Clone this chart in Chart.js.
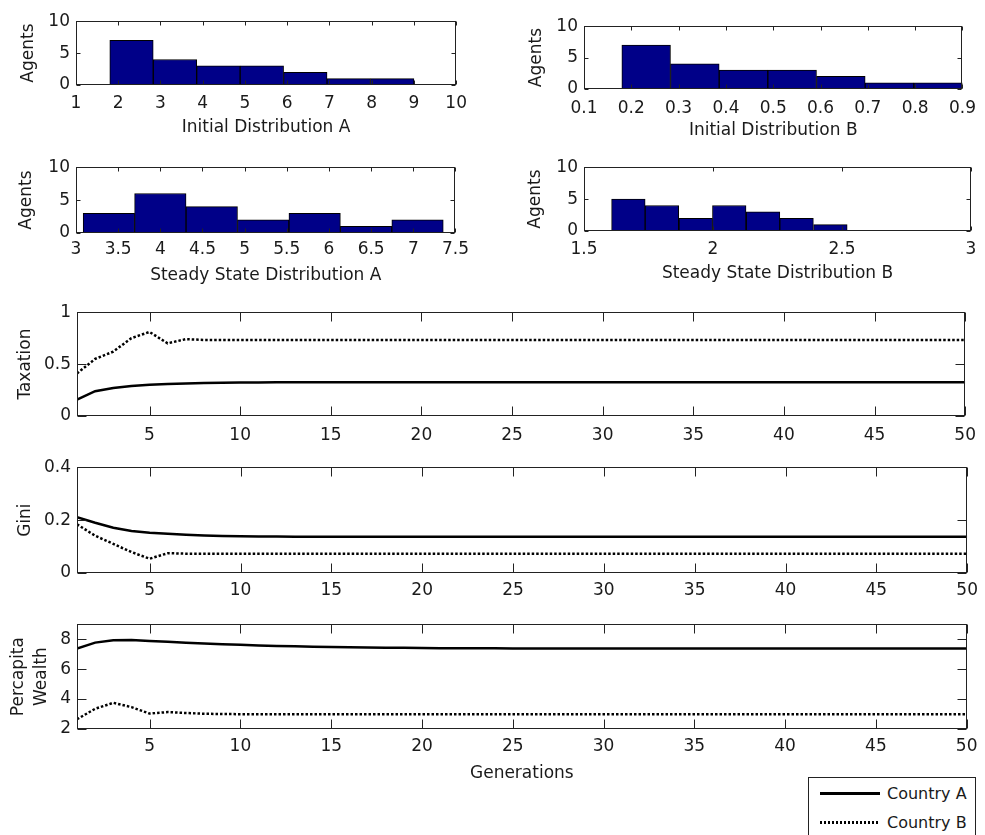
<!DOCTYPE html>
<html>
<head>
<meta charset="utf-8">
<script src="https://cdn.jsdelivr.net/npm/chart.js@4.4.1/dist/chart.umd.min.js"></script>
<style>
  body { margin: 0; width: 985px; height: 835px; overflow: hidden; background: #fff; position: relative; }
  canvas { position: absolute; }
  #legenda { position: absolute; left: 808px; top: 777px; width: 166px; height: 70px; border: 1px solid #222; background: #fff;
             font: 16px 'DejaVu Sans', sans-serif; color: #1a1a1a; }
  .item { position: absolute; left: 11px; height: 20px; display: flex; align-items: center; white-space: nowrap; }
  .traco { display: inline-block; width: 60px; height: 3px; margin-right: 7px; }
  .solido { background: #000; }
  .pontilhado { background: repeating-linear-gradient(to right, #000 0 2px, transparent 2px 4px); }
</style>
</head>
<body>
<canvas id="histInicialA"></canvas>
<canvas id="histInicialB"></canvas>
<canvas id="histEstadoA"></canvas>
<canvas id="histEstadoB"></canvas>
<canvas id="graficoTaxation"></canvas>
<canvas id="graficoGini"></canvas>
<canvas id="graficoWealth"></canvas>
<div id="legenda">
  <div class="item" style="top:5px"><span class="traco solido"></span>Country A</div>
  <div class="item" style="top:34px"><span class="traco pontilhado"></span>Country B</div>
</div>
<script>
// histogram data (bin centres and agent counts)
const binsInicialA = [2.314, 3.343, 4.371, 5.4, 6.429, 7.457, 8.486];
const agentsInicialA = [7, 4, 3, 3, 2, 1, 1];
const ticksInicialA = [1, 2, 3, 4, 5, 6, 7, 8, 9, 10];

const binsInicialB = [0.2314, 0.3343, 0.4371, 0.54, 0.6429, 0.7457, 0.8486];
const agentsInicialB = [7, 4, 3, 3, 2, 1, 1];
const ticksInicialB = [0.1, 0.2, 0.3, 0.4, 0.5, 0.6, 0.7, 0.8, 0.9];

const binsEstadoA = [3.39, 4.0, 4.61, 5.22, 5.83, 6.44, 7.05];
const agentsEstadoA = [3, 6, 4, 2, 3, 1, 2];
const ticksEstadoA = [3, 3.5, 4, 4.5, 5, 5.5, 6, 6.5, 7, 7.5];

const binsEstadoB = [1.672, 1.802, 1.933, 2.063, 2.194, 2.324, 2.455];
const agentsEstadoB = [5, 4, 2, 4, 3, 2, 1];
const ticksEstadoB = [1.5, 2, 2.5, 3];

const ticksAgents = [0, 5, 10];

// time series
const geracoes = [1, 2, 3, 4, 5, 6, 7, 8, 9, 10, 11, 12, 13, 14, 15, 16, 17, 18, 19, 20,
  21, 22, 23, 24, 25, 26, 27, 28, 29, 30, 31, 32, 33, 34, 35, 36, 37, 38, 39, 40,
  41, 42, 43, 44, 45, 46, 47, 48, 49, 50];
const ticksGeracoes = [5, 10, 15, 20, 25, 30, 35, 40, 45, 50];

const taxationA = [0.157, 0.239, 0.27, 0.289, 0.3, 0.308, 0.313, 0.317, 0.32, 0.322,
  0.323, 0.324, 0.324, 0.325, 0.325, 0.325, 0.325, 0.325, 0.325, 0.325,
  0.325, 0.325, 0.325, 0.325, 0.325, 0.325, 0.325, 0.325, 0.325, 0.325,
  0.325, 0.325, 0.325, 0.325, 0.325, 0.325, 0.325, 0.325, 0.325, 0.325,
  0.325, 0.325, 0.325, 0.325, 0.325, 0.325, 0.325, 0.325, 0.325, 0.325];
const taxationB = [0.41, 0.55, 0.62, 0.75, 0.81, 0.7, 0.74, 0.733, 0.732, 0.732,
  0.732, 0.732, 0.732, 0.732, 0.732, 0.732, 0.732, 0.732, 0.732, 0.732,
  0.732, 0.732, 0.732, 0.732, 0.732, 0.732, 0.732, 0.732, 0.732, 0.732,
  0.732, 0.732, 0.732, 0.732, 0.732, 0.732, 0.732, 0.732, 0.732, 0.732,
  0.732, 0.732, 0.732, 0.732, 0.732, 0.732, 0.732, 0.732, 0.732, 0.732];
const ticksTaxation = [0, 0.5, 1];

const giniA = [0.211, 0.19, 0.171, 0.159, 0.152, 0.148, 0.145, 0.142, 0.14, 0.139,
  0.138, 0.138, 0.137, 0.137, 0.137, 0.137, 0.137, 0.137, 0.137, 0.137,
  0.137, 0.137, 0.137, 0.137, 0.137, 0.137, 0.137, 0.137, 0.137, 0.137,
  0.137, 0.137, 0.137, 0.137, 0.137, 0.137, 0.137, 0.137, 0.137, 0.137,
  0.137, 0.137, 0.137, 0.137, 0.137, 0.137, 0.137, 0.137, 0.137, 0.137];
const giniB = [0.184, 0.141, 0.11, 0.079, 0.054, 0.075, 0.073, 0.073, 0.073, 0.073,
  0.073, 0.073, 0.073, 0.073, 0.073, 0.073, 0.073, 0.073, 0.073, 0.073,
  0.073, 0.073, 0.073, 0.073, 0.073, 0.073, 0.073, 0.073, 0.073, 0.073,
  0.073, 0.073, 0.073, 0.073, 0.073, 0.073, 0.073, 0.073, 0.073, 0.073,
  0.073, 0.073, 0.073, 0.073, 0.073, 0.073, 0.073, 0.073, 0.073, 0.073];
const ticksGini = [0, 0.2, 0.4];

const wealthA = [7.38, 7.77, 7.93, 7.95, 7.88, 7.82, 7.76, 7.71, 7.66, 7.62,
  7.58, 7.55, 7.52, 7.5, 7.48, 7.46, 7.44, 7.43, 7.42, 7.41,
  7.4, 7.4, 7.39, 7.39, 7.38, 7.38, 7.38, 7.38, 7.38, 7.38,
  7.38, 7.38, 7.38, 7.38, 7.38, 7.38, 7.38, 7.38, 7.38, 7.38,
  7.38, 7.38, 7.38, 7.38, 7.38, 7.38, 7.38, 7.38, 7.38, 7.38];
const wealthB = [2.65, 3.35, 3.75, 3.46, 3.03, 3.13, 3.07, 3.02, 3.0, 2.99,
  2.98, 2.98, 2.98, 2.98, 2.98, 2.98, 2.98, 2.98, 2.98, 2.98,
  2.98, 2.98, 2.98, 2.98, 2.98, 2.98, 2.98, 2.98, 2.98, 2.98,
  2.98, 2.98, 2.98, 2.98, 2.98, 2.98, 2.98, 2.98, 2.98, 2.98,
  2.98, 2.98, 2.98, 2.98, 2.98, 2.98, 2.98, 2.98, 2.98, 2.98];
const ticksWealth = [2, 4, 6, 8];

Chart.defaults.font.family = "'DejaVu Sans', sans-serif";
Chart.defaults.font.size = 17;
Chart.defaults.color = '#1a1a1a';

// matlab style box with inward ticks on all sides
const caixa = {
  id: 'caixa',
  afterDatasetsDraw(chart, args, opts) {
    const {ctx, chartArea: a, scales: {x, y}} = chart;
    const len = opts.tick;
    const l = Math.round(a.left) + 0.5, r = Math.round(a.right) - 0.5;
    const t = Math.round(a.top) + 0.5, b = Math.round(a.bottom) - 0.5;
    ctx.save();
    ctx.strokeStyle = '#222';
    ctx.lineWidth = 1;
    ctx.beginPath();
    x.ticks.forEach(tk => {
      const px = Math.round(x.getPixelForValue(tk.value)) + 0.5;
      ctx.moveTo(px, b); ctx.lineTo(px, b - len);
      ctx.moveTo(px, t); ctx.lineTo(px, t + len);
    });
    y.ticks.forEach(tk => {
      const py = Math.round(y.getPixelForValue(tk.value)) + 0.5;
      ctx.moveTo(l, py); ctx.lineTo(l + len, py);
      ctx.moveTo(r, py); ctx.lineTo(r - len, py);
    });
    ctx.stroke();
    ctx.strokeRect(l, t, r - l, b - t);
    ctx.restore();
  }
};

// sets canvas size/position so the plot area lands at [L, T, R, B]
function posiciona(id, area, margens) {
  const [L, T, R, B] = area;
  const [ml, pt, pr, mb] = margens;
  const canvas = document.getElementById(id);
  canvas.width = R - L + ml + pr;
  canvas.height = B - T + pt + mb;
  canvas.style.left = (L - ml) + 'px';
  canvas.style.top = (T - pt) + 'px';
  return canvas;
}

function fixaTicks(valores) {
  return s => { s.ticks = valores.map(v => ({ value: v })); };
}

function histograma(id, area, margens, bins, agents, xTicks, titulo, pads) {
  const canvas = posiciona(id, area, margens);
  return new Chart(canvas, {
    type: 'bar',
    data: {
      datasets: [{
        data: bins.map((b, i) => ({ x: b, y: agents[i] })),
        xAxisID: 'xb',
        backgroundColor: '#000088',
        borderColor: '#000',
        borderWidth: 1,
        barPercentage: 1,
        categoryPercentage: 1
      }]
    },
    options: {
      responsive: false,
      animation: false,
      events: [],
      layout: { autoPadding: false, padding: { left: 0, top: margens[1], right: margens[2], bottom: 0 } },
      plugins: { legend: { display: false }, tooltip: { enabled: false }, caixa: { tick: 4 } },
      scales: {
        xb: {
          type: 'linear', display: false, offset: false,
          min: xTicks[0], max: xTicks[xTicks.length - 1],
          afterBuildTicks: fixaTicks(bins)
        },
        x: {
          type: 'linear', position: 'bottom', offset: false,
          min: xTicks[0], max: xTicks[xTicks.length - 1],
          grid: { display: false, drawTicks: false },
          border: { display: false },
          afterBuildTicks: fixaTicks(xTicks),
          afterFit: s => { s.height = margens[3]; },
          ticks: { padding: pads.xTick, maxRotation: 0, autoSkip: false, callback: v => String(v) },
          title: { display: true, text: titulo, padding: { top: 0, bottom: pads.xTitle } }
        },
        y: {
          min: 0, max: 10,
          grid: { display: false, drawTicks: false },
          border: { display: false },
          afterBuildTicks: fixaTicks(ticksAgents),
          afterFit: s => { s.width = margens[0]; },
          ticks: { padding: 6, callback: v => String(v) },
          title: { display: true, text: 'Agents', padding: { top: pads.yTitle, bottom: 0 } }
        }
      }
    },
    plugins: [caixa]
  });
}

function painel(id, area, margens, serieA, serieB, yMin, yMax, yTicks, yTitulo, pads, xTitulo) {
  const canvas = posiciona(id, area, margens);
  return new Chart(canvas, {
    type: 'line',
    data: {
      datasets: [{
        label: 'Country A',
        data: geracoes.map((g, i) => ({ x: g, y: serieA[i] })),
        borderColor: '#000',
        borderWidth: 2.5,
        pointRadius: 0,
        tension: 0
      }, {
        label: 'Country B',
        data: geracoes.map((g, i) => ({ x: g, y: serieB[i] })),
        borderColor: '#000',
        borderWidth: 2.5,
        borderDash: [2.5, 2],
        pointRadius: 0,
        tension: 0
      }]
    },
    options: {
      responsive: false,
      animation: false,
      events: [],
      layout: { autoPadding: false, padding: { left: 0, top: margens[1], right: margens[2], bottom: 0 } },
      plugins: { legend: { display: false }, tooltip: { enabled: false }, caixa: { tick: 9 } },
      scales: {
        x: {
          type: 'linear', min: 1, max: 50,
          grid: { display: false, drawTicks: false },
          border: { display: false },
          afterBuildTicks: fixaTicks(ticksGeracoes),
          afterFit: s => { s.height = margens[3]; },
          ticks: { padding: pads.xTick, maxRotation: 0, autoSkip: false, callback: v => String(v) },
          title: { display: !!xTitulo, text: xTitulo || '', padding: { top: 0, bottom: pads.xTitle || 0 } }
        },
        y: {
          min: yMin, max: yMax,
          grid: { display: false, drawTicks: false },
          border: { display: false },
          afterBuildTicks: fixaTicks(yTicks),
          afterFit: s => { s.width = margens[0]; },
          ticks: { padding: 6, callback: v => String(v) },
          title: {
            display: true, text: yTitulo,
            font: { lineHeight: pads.yLine || 1.2 },
            padding: { top: pads.yTitle, bottom: 0 }
          }
        }
      }
    },
    plugins: [caixa]
  });
}

// histograms
histograma('histInicialA', [76, 19, 463, 85], [76, 14, 12, 55], binsInicialA, agentsInicialA, ticksInicialA,
  'Initial Distribution A', { xTick: 8, xTitle: 2, yTitle: 18 });
histograma('histInicialB', [584, 24, 971, 89], [76, 14, 14, 55], binsInicialB, agentsInicialB, ticksInicialB,
  'Initial Distribution B', { xTick: 9, xTitle: 3, yTitle: 18.5 });
histograma('histEstadoA', [76, 165, 463, 233], [76, 14, 12, 55], binsEstadoA, agentsEstadoA, ticksEstadoA,
  'Steady State Distribution A', { xTick: 6, xTitle: 2, yTitle: 16.5 });
histograma('histEstadoB', [584, 165, 971, 231], [76, 14, 14, 55], binsEstadoB, agentsEstadoB, ticksEstadoB,
  'Steady State Distribution B', { xTick: 8, xTitle: 2.5, yTitle: 17 });

// taxation / gini / wealth over generations
painel('graficoTaxation', [77, 310, 975, 416], [77, 14, 10, 40], taxationA, taxationB, 0, 1, ticksTaxation,
  'Taxation', { xTick: 9, yTitle: 15 });
painel('graficoGini', [77, 465, 975, 573], [77, 14, 10, 40], giniA, giniB, 0, 0.4, ticksGini,
  'Gini', { xTick: 7, yTitle: 15 });
painel('graficoWealth', [77, 622, 975, 729], [77, 14, 10, 60], wealthA, wealthB, 2, 9, ticksWealth,
  ['Percapita', 'Wealth'], { xTick: 7.5, xTitle: 5.5, yTitle: 6.6, yLine: 1.375 }, 'Generations');
</script>
</body>
</html>
